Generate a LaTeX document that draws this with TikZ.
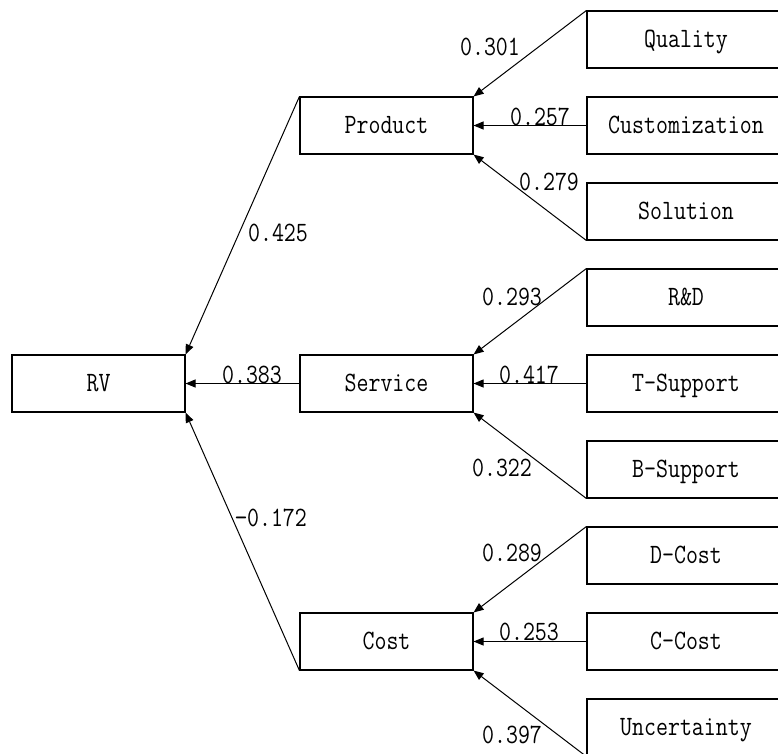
\documentclass[tikz,border=0pt]{standalone}
\usepackage{fontspec}
\setmonofont{Latin Modern Mono}[FakeStretch=0.83]
\usetikzlibrary{arrows.meta}
\begin{document}
\begin{tikzpicture}[x=1pt,y=-1pt,
  font=\ttfamily\fontsize{28}{32}\selectfont,
  box/.style={draw, line width=1.1pt, minimum width=173pt, minimum height=57pt,
              inner sep=0pt, text height=16pt, text depth=0pt},
  rbox/.style={box, minimum width=198pt},
  arr/.style={-{Triangle[length=10pt,width=8pt]}, line width=1pt},
  lab/.style={inner sep=0pt}]
\useasboundingbox (0,0) rectangle (778,753);
\begin{scope}
\clip (0,0) rectangle (778,753);
% main boxes
\node[box] (rv) at (98.5,383.5) {RV};
\node[box] (prod) at (386.5,125.5) {Product};
\node[box] (serv) at (386.5,383.5) {Service};
\node[box] (cost) at (386.5,641.5) {Cost};
% right boxes
\node[rbox] (qual) at (686,39.5) {Quality};
\node[rbox] (cust) at (686,125.5) {Customization};
\node[rbox] (sol)  at (686,211.5) {Solution};
\node[rbox] (rd)   at (686,297.5) {R\&D};
\node[rbox] (ts)   at (686,383.5) {T-Support};
\node[rbox] (bs)   at (686,469.5) {B-Support};
\node[rbox] (dc)   at (686,555.5) {D-Cost};
\node[rbox] (cc)   at (686,641.5) {C-Cost};
\node[rbox] (unc)  at (686,727.5) {Uncertainty};
% connectors
\draw[arr] (prod.north west) -- (rv.north east);
\draw[arr] (serv.west) -- (rv.east);
\draw[arr] (cost.south west) -- (rv.south east);
\draw[arr] (qual.north west) -- (prod.north east);
\draw[arr] (cust.west) -- (prod.east);
\draw[arr] (sol.south west) -- (prod.south east);
\draw[arr] (rd.north west) -- (serv.north east);
\draw[arr] (ts.west) -- (serv.east);
\draw[arr] (bs.south west) -- (serv.south east);
\draw[arr] (dc.north west) -- (cost.north east);
\draw[arr] (cc.west) -- (cost.east);
\draw[arr] (unc.south west) -- (cost.south east);
% labels
\node[lab] (l1) at (278,233) {0.425};
\node[lab] (l2) at (252,375) {0.383};
\node[lab] (l3) at (271,518) {\textminus0.172};
\node[lab] (l4) at (490,47) {0.301};
\node[lab] (l5) at (540,117) {0.257};
\node[lab] (l6) at (549,182) {0.279};
\node[lab] (l7) at (512,297) {0.293};
\node[lab] (l8) at (529,375) {0.417};
\node[lab] (l9) at (502,468) {0.322};
\node[lab] (l10) at (512,553) {0.289};
\node[lab] (l11) at (529,632) {0.253};
\node[lab] (l12) at (512,735) {0.397};
\end{scope}
\end{tikzpicture}
\end{document}
